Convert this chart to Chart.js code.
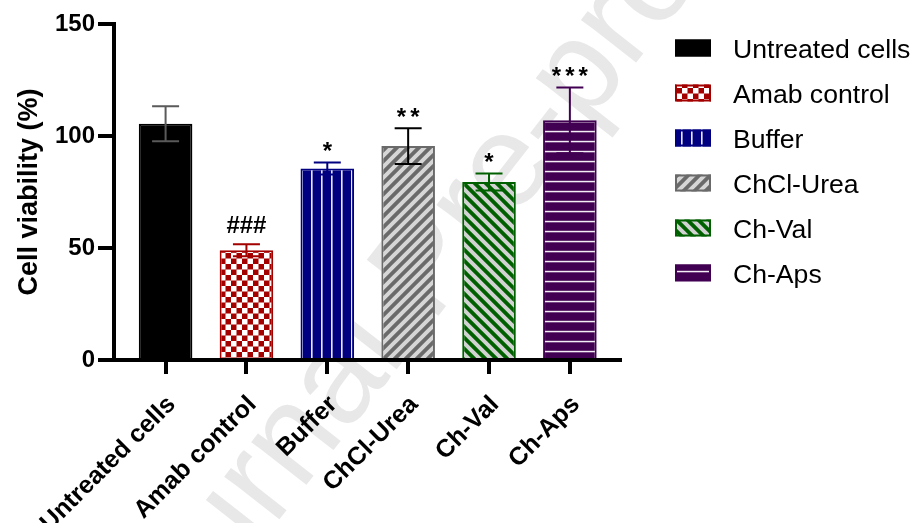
<!DOCTYPE html>
<html>
<head>
<meta charset="utf-8">
<script src="https://cdn.jsdelivr.net/npm/chart.js@4.4.1/dist/chart.umd.min.js"></script>
<style>
  html, body { margin: 0; padding: 0; background: #ffffff; }
  canvas { display: block; }
</style>
</head>
<body>
<canvas id="chart" width="912" height="523"></canvas>
<script>
// ---- data ----
const categories = ['Untreated cells', 'Amab control', 'Buffer', 'ChCl-Urea', 'Ch-Val', 'Ch-Aps'];
const viability = [105.5, 49.0, 85.5, 95.5, 79.5, 107.0];   // mean cell viability (%)
const sdError = [7.8, 2.7, 2.7, 8.0, 3.8, 14.7];            // error bar half-length
const significance = ['', '###', '*', '**', '*', '***'];
const yTickValues = [0, 50, 100, 150];
const watermarkText = 'Journal Pre-proof';

// ---- styles ----
const FONT = "'Liberation Sans', Arial, Helvetica, sans-serif";
const mainColors = ['#000000', '#a30000', '#000080', '#6a6a6a', '#006000', '#410052'];
const errorColors = ['#5a5a5a', '#a30000', '#000080', '#000000', '#006000', '#410052'];

function tile(w, h, paint) {
  const c = document.createElement('canvas');
  c.width = w; c.height = h;
  const g = c.getContext('2d');
  paint(g, w, h);
  return document.createElement('canvas').getContext('2d').createPattern(c, 'repeat');
}

function checker(color) {
  return tile(11, 11, (g) => {
    g.fillStyle = color; g.fillRect(0, 0, 11, 11);
    g.fillStyle = '#ffffff';
    g.fillRect(0, 0, 5.5, 5.5);
    g.fillRect(5.5, 5.5, 5.5, 5.5);
  });
}
function verticalLines(color) {
  return tile(10, 10, (g) => {
    g.fillStyle = color; g.fillRect(0, 0, 10, 10);
    g.fillStyle = '#e8e8ff';
    g.fillRect(1, 0, 1.6, 10);
  });
}
function horizontalLines(color) {
  return tile(10, 10, (g) => {
    g.fillStyle = color; g.fillRect(0, 0, 10, 10);
    g.fillStyle = '#f4eef6';
    g.fillRect(0, 0.8, 10, 1.5);
  });
}
function diagonal(color, stripe, rising) {
  const s = 11;
  return tile(s, s, (g) => {
    g.fillStyle = color; g.fillRect(0, 0, s, s);
    g.strokeStyle = stripe; g.lineWidth = 4; g.lineCap = 'square';
    g.beginPath();
    if (rising) {
      g.moveTo(0, s); g.lineTo(s, 0);
      g.moveTo(-s / 2, s / 2); g.lineTo(s / 2, -s / 2);
      g.moveTo(s / 2, s * 1.5); g.lineTo(s * 1.5, s / 2);
    } else {
      g.moveTo(0, 0); g.lineTo(s, s);
      g.moveTo(-s / 2, s / 2); g.lineTo(s / 2, s * 1.5);
      g.moveTo(s / 2, -s / 2); g.lineTo(s * 1.5, s / 2);
    }
    g.stroke();
  });
}

const fills = [
  '#000000',
  checker(mainColors[1]),
  verticalLines(mainColors[2]),
  diagonal(mainColors[3], '#d6d6d6', true),
  diagonal(mainColors[4], '#d2d2d2', false),
  horizontalLines(mainColors[5])
];

// faint diagonal watermark behind the plot
const watermark = {
  id: 'watermark',
  beforeDraw(chart) {
    const ctx = chart.ctx;
    ctx.save();
    ctx.fillStyle = '#ffffff';
    ctx.fillRect(0, 0, chart.width, chart.height);
    ctx.translate(428, 270);
    ctx.rotate(-52 * Math.PI / 180);
    ctx.font = '132px ' + FONT;
    ctx.fillStyle = '#e8e8e8';
    ctx.textAlign = 'center';
    ctx.textBaseline = 'middle';
    ctx.fillText(watermarkText, 0, 0);
    ctx.restore();
  }
};

// error bars and significance marks
const errorBars = {
  id: 'errorBars',
  afterDatasetsDraw(chart) {
    const ctx = chart.ctx;
    const ys = chart.scales.y;
    const meta = chart.getDatasetMeta(0);
    ctx.save();
    meta.data.forEach((bar, i) => {
      const x = bar.x;
      const top = ys.getPixelForValue(viability[i] + sdError[i]);
      const bot = ys.getPixelForValue(viability[i] - sdError[i]);
      ctx.strokeStyle = errorColors[i];
      ctx.lineWidth = 2;
      ctx.beginPath();
      ctx.moveTo(x, top); ctx.lineTo(x, bot);
      ctx.moveTo(x - 13.5, top); ctx.lineTo(x + 13.5, top);
      ctx.moveTo(x - 13.5, bot); ctx.lineTo(x + 13.5, bot);
      ctx.stroke();

      const mark = significance[i];
      if (!mark) return;
      ctx.font = 'bold 24px ' + FONT;
      ctx.fillStyle = '#000000';
      ctx.textAlign = 'center';
      ctx.textBaseline = 'alphabetic';
      const m = ctx.measureText(mark[0]);
      const extra = mark[0] === '*' ? 4 : 0;
      const step = m.width + extra;
      const baseY = top - 11 - m.actualBoundingBoxDescent;
      for (let j = 0; j < mark.length; j++) {
        ctx.fillText(mark[j], x + (j - (mark.length - 1) / 2) * step, baseY);
      }
    });
    ctx.restore();
  }
};

// legend on the right
const sideLegend = {
  id: 'sideLegend',
  afterDraw(chart) {
    const ctx = chart.ctx;
    ctx.save();
    categories.forEach((name, i) => {
      const cy = 48 + i * 45;
      ctx.fillStyle = fills[i];
      ctx.fillRect(675, cy - 8.5, 36, 17);
      ctx.strokeStyle = mainColors[i];
      ctx.lineWidth = 2;
      ctx.strokeRect(676, cy - 7.5, 34, 15);
      ctx.fillStyle = '#000000';
      ctx.font = '26.6px ' + FONT;
      ctx.textAlign = 'left';
      ctx.textBaseline = 'alphabetic';
      ctx.fillText(name, 733, cy + 9.5);
    });
    ctx.restore();
  }
};

Chart.defaults.font.family = FONT;
Chart.defaults.color = '#000000';

new Chart(document.getElementById('chart'), {
  type: 'bar',
  data: {
    datasets: [{
      data: viability.map((v, i) => ({ x: i, y: v })),
      backgroundColor: fills,
      borderColor: mainColors,
      borderWidth: 2,
      barPercentage: 0.663,
      categoryPercentage: 1
    }]
  },
  options: {
    responsive: false,
    animation: false,
    devicePixelRatio: 1,
    layout: { padding: { left: 0, top: 24, right: 292, bottom: 0 } },
    plugins: { legend: { display: false }, tooltip: { enabled: false } },
    scales: {
      x: {
        type: 'linear',
        min: -0.638,
        max: 5.62,
        offset: false,
        afterBuildTicks: (s) => { s.ticks = categories.map((_, i) => ({ value: i })); },
        afterFit: (s) => { s.height = 163; },
        grid: {
          display: true, offset: false, drawOnChartArea: false, drawTicks: true,
          tickLength: 14, lineWidth: 4, tickWidth: 4, color: '#000000', tickColor: '#000000'
        },
        border: { display: true, width: 4, color: '#000000' },
        ticks: {
          autoSkip: false, maxRotation: 45, minRotation: 45, padding: 16, labelOffset: 6,
          color: '#000000', font: { size: 25, weight: 'bold' },
          callback: (v) => categories[v]
        }
      },
      y: {
        min: 0,
        max: 150,
        afterBuildTicks: (s) => { s.ticks = yTickValues.map((v) => ({ value: v })); },
        afterFit: (s) => { s.width = 114; },
        grid: {
          display: true, drawOnChartArea: false, drawTicks: true,
          tickLength: 16, lineWidth: 4, tickWidth: 4, color: '#000000', tickColor: '#000000'
        },
        border: { display: true, width: 4, color: '#000000' },
        ticks: { padding: 3, color: '#000000', font: { size: 24, weight: 'bold' } },
        title: {
          display: true, text: 'Cell viability (%)', color: '#000000',
          font: { size: 27, weight: 'bold' }, padding: { top: 13, bottom: 0 }
        }
      }
    }
  },
  plugins: [watermark, errorBars, sideLegend]
});
</script>
</body>
</html>
